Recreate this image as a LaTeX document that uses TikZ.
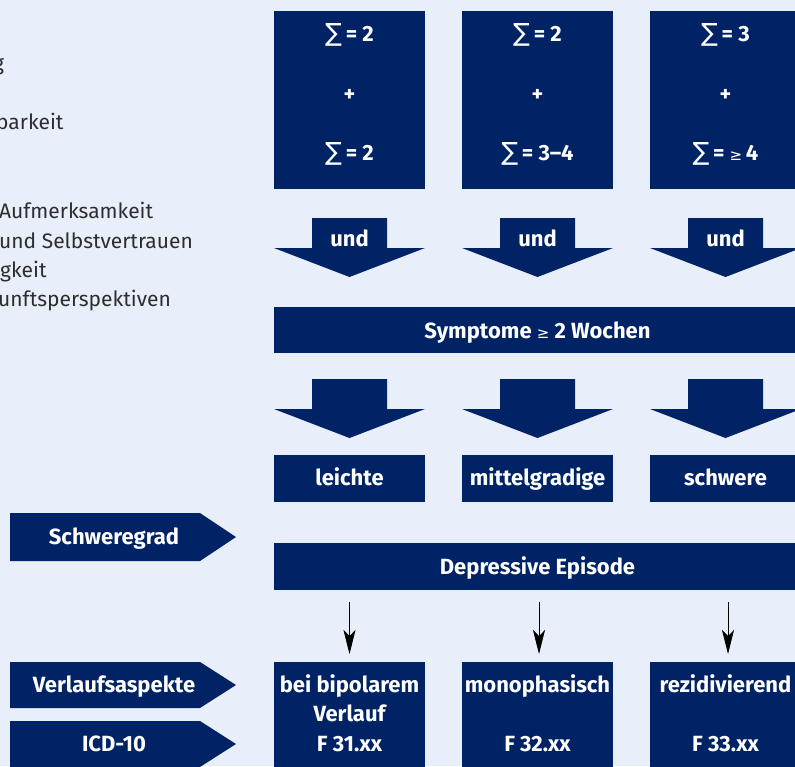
\documentclass[tikz,border=0pt]{standalone}
\usepackage{fontspec}
\setmainfont{Fira Sans}
\newfontfamily\symf{DejaVu Sans}
\usetikzlibrary{arrows.meta}
\definecolor{navy}{RGB}{0,35,102}
\definecolor{bgblue}{RGB}{233,239,250}
\definecolor{txtgray}{RGB}{45,45,45}
\tikzset{
  box/.style={fill=navy,draw=none},
  wt/.style={text=white,font=\bfseries\fontsize{22}{26}\selectfont,inner sep=0pt,text height=15pt,text depth=4pt,yshift=-3.5pt},
  lt/.style={text=txtgray,font=\fontsize{21}{24}\selectfont,inner sep=0pt,anchor=base west},
  thinarrow/.style={draw=black,line width=0.8pt,-{Stealth[length=24pt,width=12pt,inset=6pt]}}
}
\newcommand{\sig}{{\symf\fontsize{25}{26}\selectfont\mdseries ∑}}
\newcommand{\gsym}{{\symf\fontsize{15}{22}\selectfont\mdseries ≥}}
\begin{document}
\begin{tikzpicture}[x=1pt,y=-1pt]
\useasboundingbox (0,0) rectangle (795,766);
\fill[bgblue] (0,0) rectangle (795,766);
% left fragment texts
\node[lt] (l1) at (-7,70) {g};
\node[lt] (l2) at (-4,129) {barkeit};
\node[lt] (l3) at (-1,218) {Aufmerksamkeit};
\node[lt] (l4) at (-1,248) {und Selbstvertrauen};
\node[lt] (l5) at (0,277) {gkeit};
\node[lt] (l6) at (-2,306) {unftsperspektiven};
% top boxes
\foreach \cx/\n in {349.5/1,537.5/2,725.5/3}{
  \fill[box] (\cx-75.5,11) rectangle (\cx+75.5,189);
  \fill[box] (\cx-37.5,218) -- (\cx+37.5,218) -- (\cx+37.5,248) -- (\cx+75.5,248) -- (\cx,277) -- (\cx-75.5,248) -- (\cx-37.5,248) -- cycle;
  \node[wt] (und\n) at (\cx,237) {und};
  \fill[box] (\cx-37.5,379) -- (\cx+37.5,379) -- (\cx+37.5,409) -- (\cx+75.5,409) -- (\cx,438) -- (\cx-75.5,409) -- (\cx-37.5,409) -- cycle;
  \fill[box] (\cx-75.5,455) rectangle (\cx+75.5,502);
  \fill[box] (\cx-75.5,662) rectangle (\cx+75.5,770);
}
\node[wt] (a1) at (349.5,32) {\sig\,= 2};
\node[wt] (p1) at (349.5,92) {+};
\node[wt] (b1) at (349.5,151) {\sig\,= 2};
\node[wt] (a2) at (537.5,32) {\sig\,= 2};
\node[wt] (p2) at (537.5,92) {+};
\node[wt] (b2) at (537.5,151) {\sig\,= 3–4};
\node[wt] (a3) at (725.5,32) {\sig\,= 3};
\node[wt] (p3) at (725.5,92) {+};
\node[wt] (b3) at (725.5,151) {\sig\,= \gsym\,4};
% symptome bar
\fill[box] (274,307) rectangle (801,353);
\node[wt] (sym) at (537.5,329) {Symptome \gsym\ 2 Wochen};
% severity
\node[wt] (s1) at (349.5,476) {leichte};
\node[wt] (s2) at (537.5,476) {mittelgradige};
\node[wt] (s3) at (725.5,476) {schwere};
% left pointers
\fill[box] (10,513) -- (200,513) -- (236,537) -- (200,561) -- (10,561) -- cycle;
\node[wt] (sg) at (114,535) {Schweregrad};
\fill[box] (10,662) -- (200,662) -- (236,685) -- (200,708) -- (10,708) -- cycle;
\node[wt] (va) at (114,683) {Verlaufsaspekte};
\fill[box] (10,721) -- (200,721) -- (236,744) -- (200,767) -- (10,767) -- cycle;
\node[wt] (icd) at (114,742) {ICD-10};
% depressive episode
\fill[box] (274,543) rectangle (801,590);
\node[wt] (dep) at (537.5,565) {Depressive Episode};
% thin arrows
\coordinate (t1) at (349.5,602); \coordinate (h1) at (349.5,654);
\coordinate (t2) at (539,602); \coordinate (h2) at (539,654);
\coordinate (t3) at (728,602); \coordinate (h3) at (728,654);
\draw[thinarrow] (t1) -- (h1);
\draw[thinarrow] (t2) -- (h2);
\draw[thinarrow] (t3) -- (h3);
% bottom boxes
\node[wt] (v1) at (349.5,683) {bei bipolarem};
\node[wt] (v1b) at (349.5,712) {Verlauf};
\node[wt] (c1) at (349.5,742) {F 31.xx};
\node[wt] (v2) at (537.5,683) {monophasisch};
\node[wt] (c2) at (537.5,742) {F 32.xx};
\node[wt] (v3) at (725.5,683) {rezidivierend};
\node[wt] (c3) at (725.5,742) {F 33.xx};
\end{tikzpicture}
\end{document}
